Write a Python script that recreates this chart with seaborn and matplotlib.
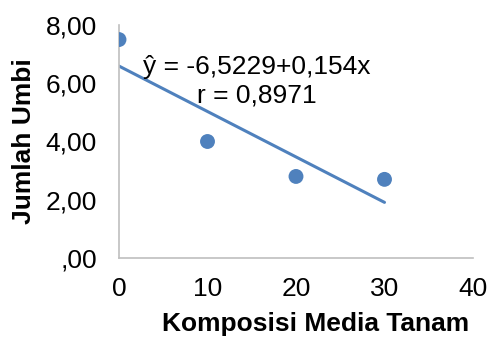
import matplotlib
matplotlib.use("Agg")
import matplotlib.pyplot as plt
import seaborn as sns
import pandas as pd

# Composition of planting medium vs. number of tubers
komposisi = [0, 10, 20, 30]
jumlah_umbi = [7.5, 4.0, 2.8, 2.7]

x_ticks = [0, 10, 20, 30, 40]
x_tick_labels = ["0", "10", "20", "30", "40"]
y_ticks = [0, 2, 4, 6, 8]
y_tick_labels = [",00", "2,00", "4,00", "6,00", "8,00"]

equation_text = "ŷ = -6,5229+0,154x"
r_text = "r = 0,8971"

blue = "#4F81BD"
axis_grey = "#BFBFBF"

sns.set_style("white")
plt.rcParams["font.family"] = ["Liberation Sans", "DejaVu Sans"]
plt.rcParams["text.color"] = "black"
plt.rcParams["axes.labelcolor"] = "black"

df = pd.DataFrame({"Komposisi Media Tanam": komposisi, "Jumlah Umbi": jumlah_umbi})

fig = plt.figure(figsize=(4.89, 3.38), dpi=100)
ax = fig.add_axes([119 / 489, 80 / 338, 354 / 489, 233 / 338])

sns.regplot(
    data=df, x="Komposisi Media Tanam", y="Jumlah Umbi", ax=ax, ci=None,
    truncate=True,
    scatter_kws={"s": 115, "color": blue, "edgecolor": "none", "alpha": 1, "zorder": 3},
    line_kws={"color": blue, "linewidth": 2.2, "zorder": 2},
)

ax.set_xlim(0, 40)
ax.set_ylim(0, 8)
ax.set_xticks(x_ticks)
ax.set_xticklabels(x_tick_labels)
ax.set_yticks(y_ticks)
ax.set_yticklabels(y_tick_labels)
ax.tick_params(axis="both", length=0, labelsize=19, colors="black",
               labelcolor="black")
ax.tick_params(axis="y", pad=16)
ax.tick_params(axis="x", pad=14)

for side in ("top", "right"):
    ax.spines[side].set_visible(False)
for side in ("left", "bottom"):
    ax.spines[side].set_color(axis_grey)
    ax.spines[side].set_linewidth(1.2)

ax.set_xlabel("Komposisi Media Tanam", fontsize=19, fontweight="bold", color="black")
ax.set_ylabel("Jumlah Umbi", fontsize=19, fontweight="bold", color="black")
ax.xaxis.set_label_coords(0.554, -0.232)
ax.yaxis.set_label_coords(-0.235, 0.5)

ax.text(0.39, 0.789, equation_text, transform=ax.transAxes, ha="center",
        va="baseline", fontsize=19, color="black")
ax.text(0.39, 0.668, r_text, transform=ax.transAxes, ha="center",
        va="baseline", fontsize=19, color="black")

fig.savefig("out.png", dpi=100)
